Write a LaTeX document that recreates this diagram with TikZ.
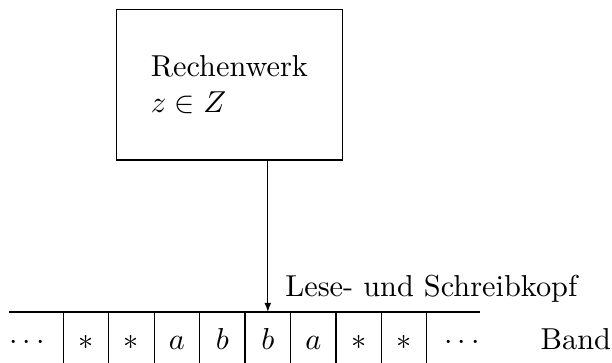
\documentclass[tikz,border=0pt]{standalone}
\usepackage{amssymb}
\usepackage{tikz}
\usetikzlibrary{positioning, arrows.meta}
\tikzset{
  tape/.style   = {inner sep=0pt, outer sep=0pt, text height=7pt, text depth=2pt},
  cell/.style   = {tape, minimum width=15pt, minimum height=20pt},
  unit/.style   = {rectangle, draw=black, thin, outer sep=0pt, minimum width=74.6pt,
                   minimum height=49.7pt, align=left},
  lbl/.style    = {inner sep=0pt, outer sep=0pt},
  sep/.style    = {thin, draw=black},
  arr/.style    = {-{Latex[length=3pt,width=2.2pt]}, thin, draw=black},
}
\begin{document}
\begin{tikzpicture}
  \useasboundingbox (0,0) rectangle (202pt,119.8pt);

  % ----- tape cells -----
  \node[cell] (c1) at (28.4pt,6.8pt) {$*$};
  \node[cell, right=0pt of c1] (c2) {$*$};
  \node[cell, right=0pt of c2] (c3) {$a$};
  \node[cell, right=0pt of c3] (c4) {$b$};
  \node[cell, right=0pt of c4] (c5) {$b$};
  \node[cell, right=0pt of c5] (c6) {$a$};
  \node[cell, right=0pt of c6] (c7) {$*$};
  \node[cell, right=0pt of c7] (c8) {$*$};

  \node[tape, left=6.2pt of c1] (ldots) {$\cdots$};
  \node[tape, right=5.8pt of c8] (rdots) {$\cdots$};
  \node[tape, right=20.1pt of rdots] (band) {Band};

  \draw[sep] (ldots.west |- c1.north) -- (rdots.east |- c8.north);
  \draw[sep] (c1.north west) -- (c1.south west)
             (c2.north west) -- (c2.south west)
             (c3.north west) -- (c3.south west)
             (c4.north west) -- (c4.south west)
             (c5.north west) -- (c5.south west)
             (c6.north west) -- (c6.south west)
             (c7.north west) -- (c7.south west)
             (c8.north west) -- (c8.south west)
             (c8.north east) -- (c8.south east);

  % ----- control unit and head -----
  \node[unit, above=50.2pt of c5, xshift=-12.7pt] (rw) {Rechenwerk\\ $z\in Z$};
  \node[lbl, above right=3.2pt and 5.8pt of c5.north] (head) {Lese- und Schreibkopf};

  \draw[arr] (rw.south -| c5.north) -- (c5.north);

\end{tikzpicture}
\end{document}
